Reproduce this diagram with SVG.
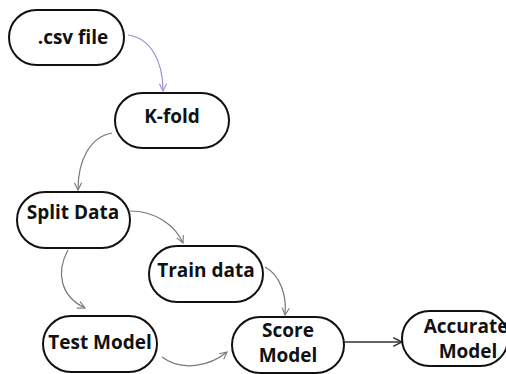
<svg xmlns="http://www.w3.org/2000/svg" width="506" height="374" viewBox="0 0 506 374">
  <style>
    .node rect { fill: #ffffff; stroke: #111111; stroke-width: 2; }
    .node text { font-family: "Open Sans", "Liberation Sans", sans-serif; font-weight: bold; font-size: 19px; fill: #111111; text-anchor: middle; }
    .edge { fill: none; stroke: #777777; stroke-width: 1.2; }
  </style>
  <defs>
    <marker id="arrow" viewBox="0 0 10 10" refX="9" refY="5" markerWidth="9" markerHeight="9" markerUnits="userSpaceOnUse" orient="auto">
      <path d="M1,1 L9,5 L1,9" fill="none" stroke="context-stroke" stroke-width="1.2"/>
    </marker>
    <marker id="arrow-gray" viewBox="0 0 10 10" refX="9" refY="5" markerWidth="9" markerHeight="9" markerUnits="userSpaceOnUse" orient="auto">
      <path d="M1,1 L9,5 L1,9" fill="none" stroke="#777777" stroke-width="1.2"/>
    </marker>
    <marker id="arrow-purple" viewBox="0 0 10 10" refX="9" refY="5" markerWidth="9" markerHeight="9" markerUnits="userSpaceOnUse" orient="auto">
      <path d="M1,1 L9,5 L1,9" fill="none" stroke="#a58bd6" stroke-width="1.2"/>
    </marker>
    <marker id="arrow-dark" viewBox="0 0 10 10" refX="9" refY="5" markerWidth="11" markerHeight="11" markerUnits="userSpaceOnUse" orient="auto">
      <path d="M1,1 L9,5 L1,9" fill="none" stroke="#333333" stroke-width="1.4"/>
    </marker>
  </defs>
  <rect width="506" height="374" fill="#ffffff"/>

  <g id="connectors">
    <path class="edge" d="M128,35 C150,38 163,60 163,91" stroke="#a58bd6" style="stroke:#a58bd6" marker-end="url(#arrow-purple)"/>
    <path class="edge" d="M112,133 C90,137 78,160 78,190" marker-end="url(#arrow-gray)"/>
    <path class="edge" d="M130,211 C155,211 175,225 183,243" marker-end="url(#arrow-gray)"/>
    <path class="edge" d="M68,250 C56,272 60,296 85,308" marker-end="url(#arrow-gray)"/>
    <path class="edge" d="M265,267 C280,275 287,295 285,315" marker-end="url(#arrow-gray)"/>
    <path class="edge" d="M162,357 C182,372 210,366 227,352" marker-end="url(#arrow-gray)"/>
    <path class="edge" d="M344,342 L402,342" style="stroke:#333333;stroke-width:1.6" marker-end="url(#arrow-dark)"/>
  </g>

  <g id="node-csv" class="node">
    <rect x="9" y="10" width="115" height="55" rx="27.5"/>
    <text x="73" y="44">.csv file</text>
  </g>
  <g id="node-kfold" class="node">
    <rect x="115" y="93" width="114" height="55" rx="27.5"/>
    <text x="172" y="123">K-fold</text>
  </g>
  <g id="node-split" class="node">
    <rect x="17" y="192" width="113" height="56" rx="28"/>
    <text x="73" y="219">Split Data</text>
  </g>
  <g id="node-train" class="node">
    <rect x="149" y="246" width="114" height="56" rx="28"/>
    <text x="206" y="277">Train data</text>
  </g>
  <g id="node-test" class="node">
    <rect x="43" y="316" width="114" height="56" rx="28"/>
    <text x="100" y="349">Test Model</text>
  </g>
  <g id="node-score" class="node">
    <rect x="232" y="317" width="112" height="56" rx="28"/>
    <text x="288" y="337">Score</text>
    <text x="288" y="362">Model</text>
  </g>
  <g id="node-accurate" class="node">
    <rect x="402" y="311" width="106" height="55" rx="27.5"/>
    <text x="466" y="333">Accurate</text>
    <text x="468" y="358">Model</text>
  </g>
</svg>
